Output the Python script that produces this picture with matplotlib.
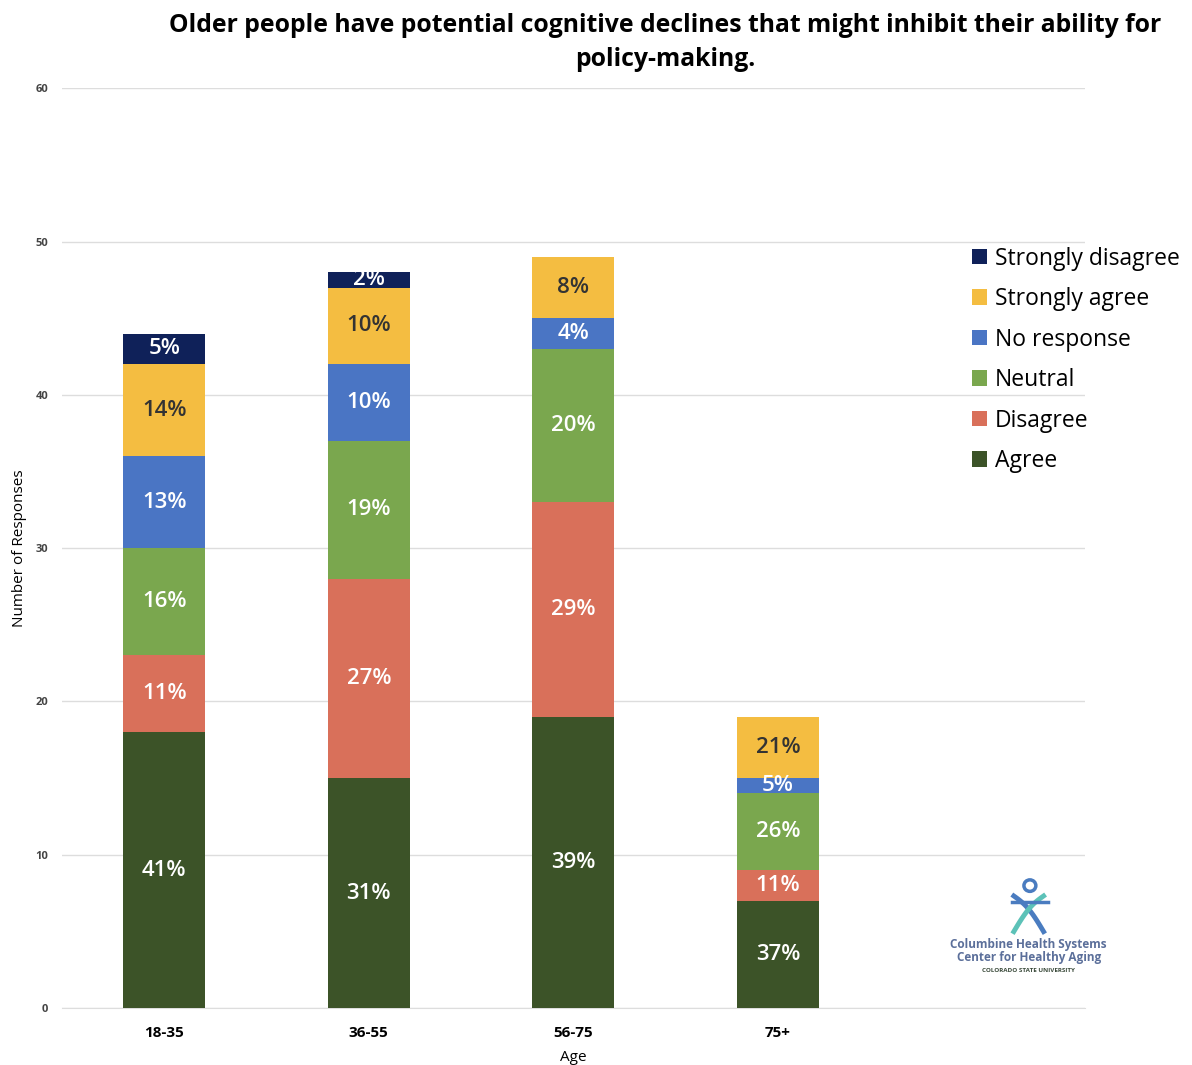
import numpy as np
import matplotlib.pyplot as plt
from matplotlib.patches import Circle

ages = ['18-35', '36-55', '56-75', '75+']
series = ['Agree', 'Disagree', 'Neutral', 'No response', 'Strongly agree', 'Strongly disagree']

agree = [18, 15, 19, 7]
disagree = [5, 13, 14, 2]
neutral = [7, 9, 10, 5]
no_response = [6, 5, 2, 1]
strongly_agree = [6, 5, 4, 4]
strongly_disagree = [2, 1, 0, 0]

agree_pct = ['41%', '31%', '39%', '37%']
disagree_pct = ['11%', '27%', '29%', '11%']
neutral_pct = ['16%', '19%', '20%', '26%']
no_response_pct = ['13%', '10%', '4%', '5%']
strongly_agree_pct = ['14%', '10%', '8%', '21%']
strongly_disagree_pct = ['5%', '2%', '', '']

values = [agree, disagree, neutral, no_response, strongly_agree, strongly_disagree]
labels = [agree_pct, disagree_pct, neutral_pct, no_response_pct, strongly_agree_pct, strongly_disagree_pct]
colors = ['#3c5328', '#d9705a', '#7aa74e', '#4a75c4', '#f4bd41', '#0f2159']
text_colors = ['white', 'white', 'white', 'white', '#333333', 'white']

plt.rcParams['font.family'] = ['Open Sans', 'DejaVu Sans']

fig = plt.figure(figsize=(11.92, 10.65), dpi=100)
ax = fig.add_axes([0.052, 0.0535, 0.858, 0.8635])

x = np.arange(len(ages))
bottom = np.zeros(len(ages))
handles = []
for name, vals, labs, col, tcol in zip(series, values, labels, colors, text_colors):
    vals = np.array(vals, dtype=float)
    b = ax.bar(x, vals, 0.4, bottom=bottom, color=col, label=name, zorder=3)
    handles.append(b)
    for xi, v, bt, lab in zip(x, vals, bottom, labs):
        if lab:
            ax.text(xi, bt + v / 2, lab, ha='center', va='center', color=tcol,
                    fontsize=16, fontweight='semibold', zorder=4)
    bottom += vals

ax.set_xlim(-0.5, 4.5)
ax.set_ylim(0, 60)
ax.set_yticks(range(0, 61, 10))
ax.set_xticks(x)
ax.set_xticklabels(ages, fontsize=11, fontweight='bold')
ax.tick_params(axis='y', labelsize=8, labelcolor='#444444', length=0, pad=10)
ax.tick_params(axis='x', length=0, pad=13)
for lbl in ax.get_yticklabels():
    lbl.set_fontweight('bold')
ax.grid(axis='y', color='#dddddd', linewidth=1, zorder=0)
for s in ['top', 'right', 'left']:
    ax.spines[s].set_visible(False)
ax.spines['bottom'].set_color('#dddddd')
ax.set_xlabel('Age', fontsize=11, labelpad=7)
ax.set_ylabel('Number of Responses', fontsize=11, labelpad=6)

leg = ax.legend(handles[::-1], series[::-1], loc='upper left', bbox_to_anchor=(0.881, 0.838),
                frameon=False, fontsize=16.5, handlelength=0.65, handleheight=0.65,
                handletextpad=0.35, labelspacing=0.72, borderaxespad=0)

fig.text(0.558, 0.988, 'Older people have potential cognitive declines that might inhibit their ability for\npolicy-making.',
         ha='center', va='top', fontsize=17.8, fontweight='bold', linespacing=1.5)

# logo
lc = '#5b6f9a'
fig.text(0.863, 0.107, 'Columbine Health Systems\nCenter for Healthy Aging', ha='center', va='center',
         fontsize=8.5, color=lc, fontweight='bold', linespacing=1.0)
fig.text(0.863, 0.089, 'COLORADO STATE UNIVERSITY', ha='center', va='center',
         fontsize=4.5, color='#3a4a3a', fontweight='bold')
lax = fig.add_axes([0.838, 0.122, 0.05, 0.054])
lax.set_xlim(0, 1)
lax.set_ylim(0, 1)
lax.axis('off')
lax.add_patch(Circle((0.52, 0.86), 0.1, fill=False, ec='#4a7cc0', lw=2.5))
t = np.linspace(0, 1, 50)
lax.plot(0.25 + 0.5 * t, 0.68 - 0.62 * t + 0.08 * np.sin(np.pi * t), color='#4a7cc0', lw=3.5)
lax.plot(0.75 - 0.5 * t, 0.68 - 0.62 * t + 0.08 * np.sin(np.pi * t), color='#5cc2b8', lw=3.5)
lax.plot([0.22, 0.82], [0.58, 0.58], color='#4a7cc0', lw=2.5)

plt.savefig('out.png', dpi=100)
